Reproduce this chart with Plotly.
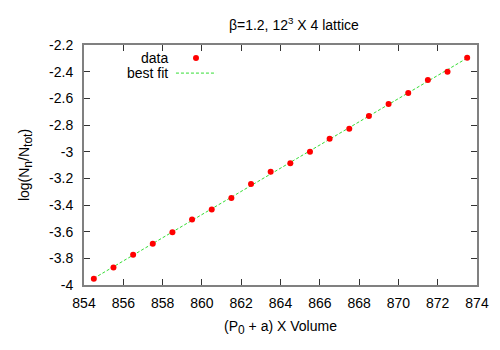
import plotly.graph_objects as go

# data
volume = [854.5, 855.5, 856.5, 857.5, 858.5, 859.5, 860.5, 861.5, 862.5, 863.5,
          864.5, 865.5, 866.5, 867.5, 868.5, 869.5, 870.5, 871.5, 872.5, 873.5]
log_ratio = [-3.953, -3.868, -3.773, -3.691, -3.605, -3.508, -3.433, -3.348, -3.243, -3.150,
             -3.087, -3.000, -2.903, -2.828, -2.733, -2.643, -2.560, -2.463, -2.400, -2.295]

# best fit line end points
fit_x = [854.5, 873.5]
fit_y = [-3.950, -2.298]

x_ticks = [854, 856, 858, 860, 862, 864, 866, 868, 870, 872, 874]
y_ticks = [-4, -3.8, -3.6, -3.4, -3.2, -3, -2.8, -2.6, -2.4, -2.2]
y_tick_text = ["-4", "-3.8", "-3.6", "-3.4", "-3.2", "-3", "-2.8", "-2.6", "-2.4", "-2.2"]

font = "Liberation Sans, Arial, sans-serif"


def sub(s):
    # gnuplot subscripts are bigger than plotly's default 70%
    return '<sub><span style="font-size:12px">' + s + '</span></sub>'


fig = go.Figure()
fig.add_trace(go.Scatter(x=fit_x, y=fit_y, mode="lines", name="best fit",
                         line=dict(color="#33dd33", width=1, dash="3px,2px")))
fig.add_trace(go.Scatter(x=volume, y=log_ratio, mode="markers", name="data",
                         marker=dict(color="#ff0000", size=6, line=dict(width=0))))

axis_common = dict(showgrid=False, zeroline=False, showline=True, linecolor="#808080",
                   linewidth=2, mirror="allticks", ticks="inside", ticklen=6,
                   tickcolor="#333333", tickwidth=1,
                   tickfont=dict(family=font, size=14, color="black"))

fig.update_xaxes(range=[854, 874], tickvals=x_ticks, ticklabelstandoff=4,
                 title=dict(text="(P" + sub("0") + " + a) X Volume", standoff=11,
                            font=dict(family=font, size=14, color="black")),
                 **axis_common)
fig.update_yaxes(range=[-4, -2.2], tickvals=y_ticks, ticktext=y_tick_text, ticklabelstandoff=6,
                 title=dict(text="log(N" + sub("n") + "/N" + sub("tot") + ")", standoff=16,
                            font=dict(family=font, size=14, color="black")),
                 **axis_common)

# gnuplot style key: text on the left, sample on the right
fig.add_annotation(text="data", xref="paper", yref="paper", x=0.140, y=0.945,
                   xanchor="left", yanchor="middle", showarrow=False,
                   font=dict(family=font, size=14, color="black"))
fig.add_annotation(text="best fit", xref="paper", yref="paper", x=0.104, y=0.883,
                   xanchor="left", yanchor="middle", showarrow=False,
                   font=dict(family=font, size=14, color="black"))
fig.add_shape(type="circle", xref="paper", yref="paper",
              x0=0.2774, x1=0.2926, y0=0.9335, y1=0.9585,
              fillcolor="#ff0000", line=dict(width=0))
fig.add_shape(type="line", xref="paper", yref="paper",
              x0=0.234, x1=0.336, y0=0.883, y1=0.883,
              line=dict(color="#33dd33", width=1, dash="3px,2px"))

# page body keeps an 8px margin, so the figure is a little smaller than the window
fig.update_layout(
    width=492, height=342,
    margin=dict(l=76, r=23, t=37, b=65),
    plot_bgcolor="white", paper_bgcolor="white",
    showlegend=False,
    title=dict(text="β=1.2, 12<sup>3</sup> X 4 lattice", x=0.581, xanchor="center",
               y=0.950, yanchor="middle",
               font=dict(family=font, size=14, color="black")),
)

fig.write_html("out.html")
